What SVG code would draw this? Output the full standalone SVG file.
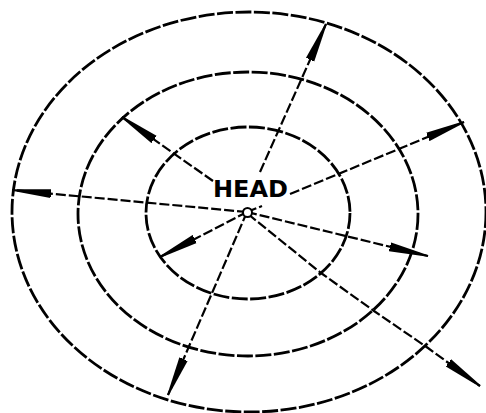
<svg xmlns="http://www.w3.org/2000/svg" width="486" height="413" viewBox="0 0 486 413">
<style>
.ring{fill:none;stroke:#000;stroke-width:2.8;stroke-dasharray:16 2.5}
.ray{fill:none;stroke:#000;stroke-width:2.2;stroke-dasharray:10 3}
.lbl{font-family:"DejaVu Sans","Liberation Sans",sans-serif;font-size:23px;font-weight:bold;fill:#000}
</style>
<defs>
<marker id="ah" viewBox="0 -6 40 12" refX="39" refY="0" markerWidth="40" markerHeight="12" markerUnits="userSpaceOnUse" orient="auto">
<path d="M0,-4.5 Q-3,0 0,4.5 L39,0.8 L39,-0.8 Z" fill="#000"/>
</marker>
</defs>
<rect width="486" height="413" fill="#fff"/>
<g id="outer-ring"><ellipse class="ring" cx="249" cy="212" rx="237" ry="200"/></g>
<g id="middle-ring"><ellipse class="ring" cx="248" cy="214" rx="170" ry="142"/></g>
<g id="inner-ring"><ellipse class="ring" cx="248" cy="213" rx="102" ry="86"/></g>
<g id="connectors">
<line class="ray" x1="260" y1="172" x2="326" y2="24" marker-end="url(#ah)"/>
<line class="ray" x1="247" y1="212" x2="168" y2="395" marker-end="url(#ah)"/>
<line class="ray" x1="247" y1="212" x2="12" y2="190" marker-end="url(#ah)"/>
<line class="ray" x1="247" y1="212" x2="428" y2="256" marker-end="url(#ah)"/>
<polyline class="ray" points="248,214 321,273 374,311 428,348 480,386" marker-end="url(#ah)"/>
<line class="ray" x1="247" y1="212" x2="262" y2="206"/>
<line class="ray" x1="290" y1="194" x2="464" y2="122" marker-end="url(#ah)"/>
<line class="ray" x1="213" y1="181" x2="122" y2="117" marker-end="url(#ah)"/>
<line class="ray" x1="247" y1="212" x2="160" y2="257" marker-end="url(#ah)"/>
</g>
<g id="head">
<circle cx="247.5" cy="212.5" r="4.5" fill="#fff" stroke="#000" stroke-width="2"/>
<text class="lbl" x="213" y="197" textLength="75" lengthAdjust="spacingAndGlyphs">HEAD</text>
</g>
</svg>
